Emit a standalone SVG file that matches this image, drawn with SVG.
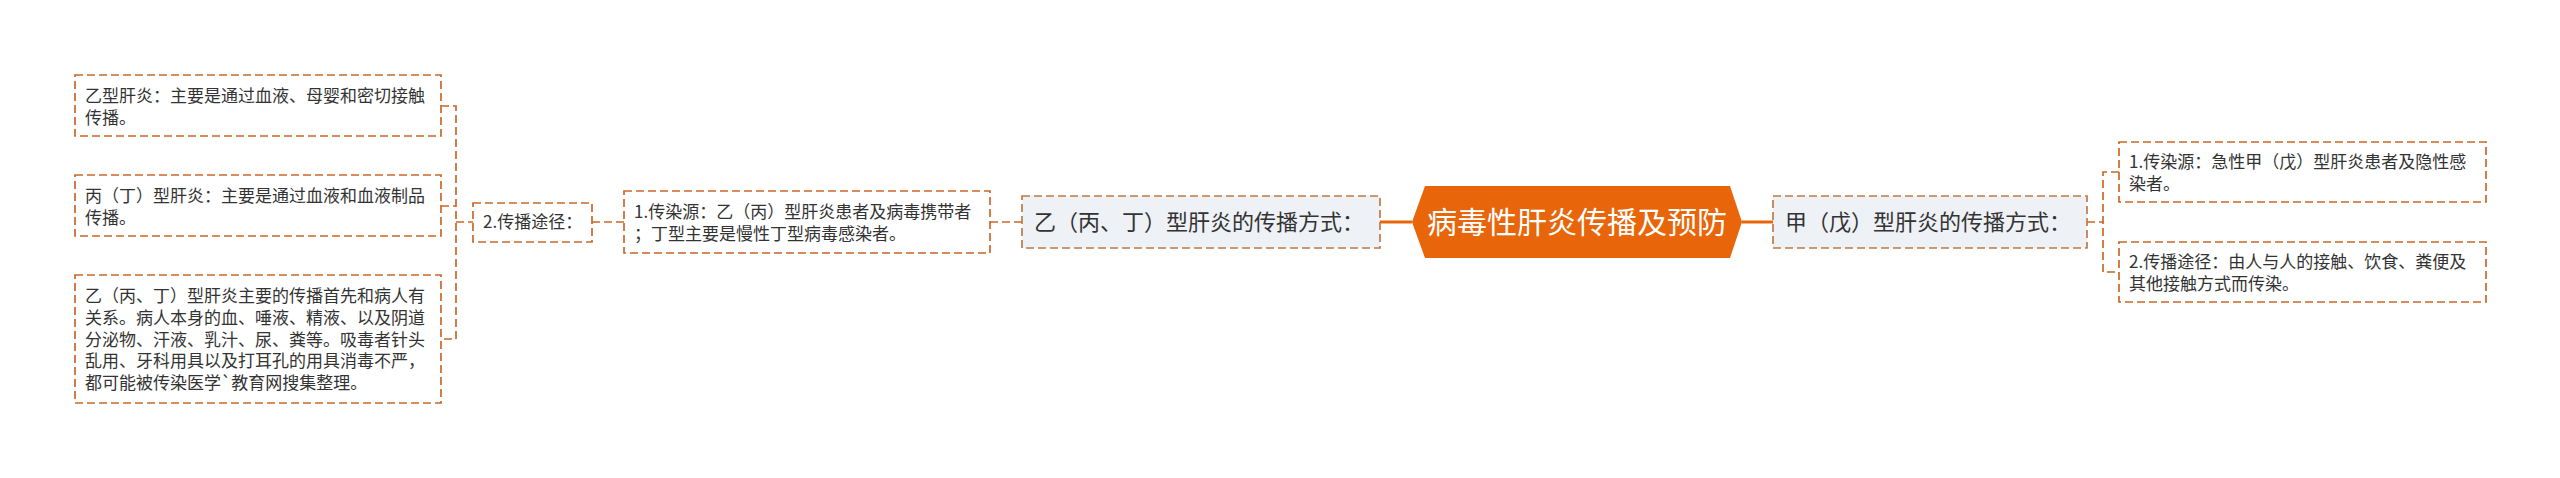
<svg xmlns="http://www.w3.org/2000/svg" width="2560" height="478" viewBox="0 0 2560 478">
<style>
.t{font-family:"Noto Sans CJK SC","Noto Sans",sans-serif;fill:#333333;font-size:17px}
.m{font-size:22px}
.leaf{fill:#ffffff;stroke:#c9682a;stroke-width:1.7;stroke-dasharray:8 4}
.sub{fill:#eef1f5;stroke:#bf7a45;stroke-width:1.7;stroke-dasharray:8 4}
.dc{fill:none;stroke:#c9682a;stroke-width:1.7;stroke-dasharray:8 4}
.sc{fill:none;stroke:#e8650a;stroke-width:3}
.root{fill:#e8650a}
.rt{font-family:"Noto Sans CJK SC","Noto Sans",sans-serif;fill:#ffffff;font-size:30px}
</style>
<rect width="2560" height="478" fill="#ffffff"/>
<g id="connectors">
<path class="sc" d="M1380 222H1412"/>
<path class="sc" d="M1742 222H1773"/>
<path class="dc" d="M990 222H1022"/>
<path class="dc" d="M592 222H624"/>
<path class="dc" d="M441 106H456V339H441M441 206H456M456 222H473"/>
<path class="dc" d="M2087 222H2103M2119 172H2103V272H2119"/>
</g>
<g id="root">
<polygon class="root" points="1412,222 1425,186 1730,186 1742,222 1730,258 1425,258"/>
<text class="rt" x="1577" y="233" text-anchor="middle">病毒性肝炎传播及预防</text>
</g>
<g id="node-yi">
<rect class="sub" x="1022" y="196" width="358" height="52"/>
<text class="t m" x="1034" y="230">乙（丙、丁）型肝炎的传播方式：</text>
</g>
<g id="node-jia">
<rect class="sub" x="1773" y="196" width="314" height="52"/>
<text class="t m" x="1785" y="230">甲（戊）型肝炎的传播方式：</text>
</g>
<g id="node-yi-source">
<rect class="leaf" x="624" y="191" width="366" height="62"/>
<text class="t" x="634" y="218">1.传染源：乙（丙）型肝炎患者及病毒携带者</text>
<text class="t" x="634" y="240">；丁型主要是慢性丁型病毒感染者。</text>
</g>
<g id="node-yi-route">
<rect class="leaf" x="473" y="203" width="119" height="39"/>
<text class="t" x="483" y="228">2.传播途径：</text>
</g>
<g id="leaf-1">
<rect class="leaf" x="75" y="75" width="366" height="61"/>
<text class="t" x="85" y="102">乙型肝炎：主要是通过血液、母婴和密切接触</text>
<text class="t" x="85" y="124">传播。</text>
</g>
<g id="leaf-2">
<rect class="leaf" x="75" y="175" width="366" height="61"/>
<text class="t" x="85" y="202">丙（丁）型肝炎：主要是通过血液和血液制品</text>
<text class="t" x="85" y="224">传播。</text>
</g>
<g id="leaf-3">
<rect class="leaf" x="75" y="275" width="366" height="128"/>
<text class="t" x="85" y="302">乙（丙、丁）型肝炎主要的传播首先和病人有</text>
<text class="t" x="85" y="324">关系。病人本身的血、唾液、精液、以及阴道</text>
<text class="t" x="85" y="346">分泌物、汗液、乳汁、尿、粪等。吸毒者针头</text>
<text class="t" x="85" y="367">乱用、牙科用具以及打耳孔的用具消毒不严，</text>
<text class="t" x="85" y="389">都可能被传染医学`教育网搜集整理。</text>
</g>
<g id="leaf-r1">
<rect class="leaf" x="2119" y="142" width="367" height="60"/>
<text class="t" x="2129" y="168">1.传染源：急性甲（戊）型肝炎患者及隐性感</text>
<text class="t" x="2129" y="190">染者。</text>
</g>
<g id="leaf-r2">
<rect class="leaf" x="2119" y="242" width="367" height="60"/>
<text class="t" x="2129" y="268">2.传播途径：由人与人的接触、饮食、粪便及</text>
<text class="t" x="2129" y="290">其他接触方式而传染。</text>
</g>
</svg>
